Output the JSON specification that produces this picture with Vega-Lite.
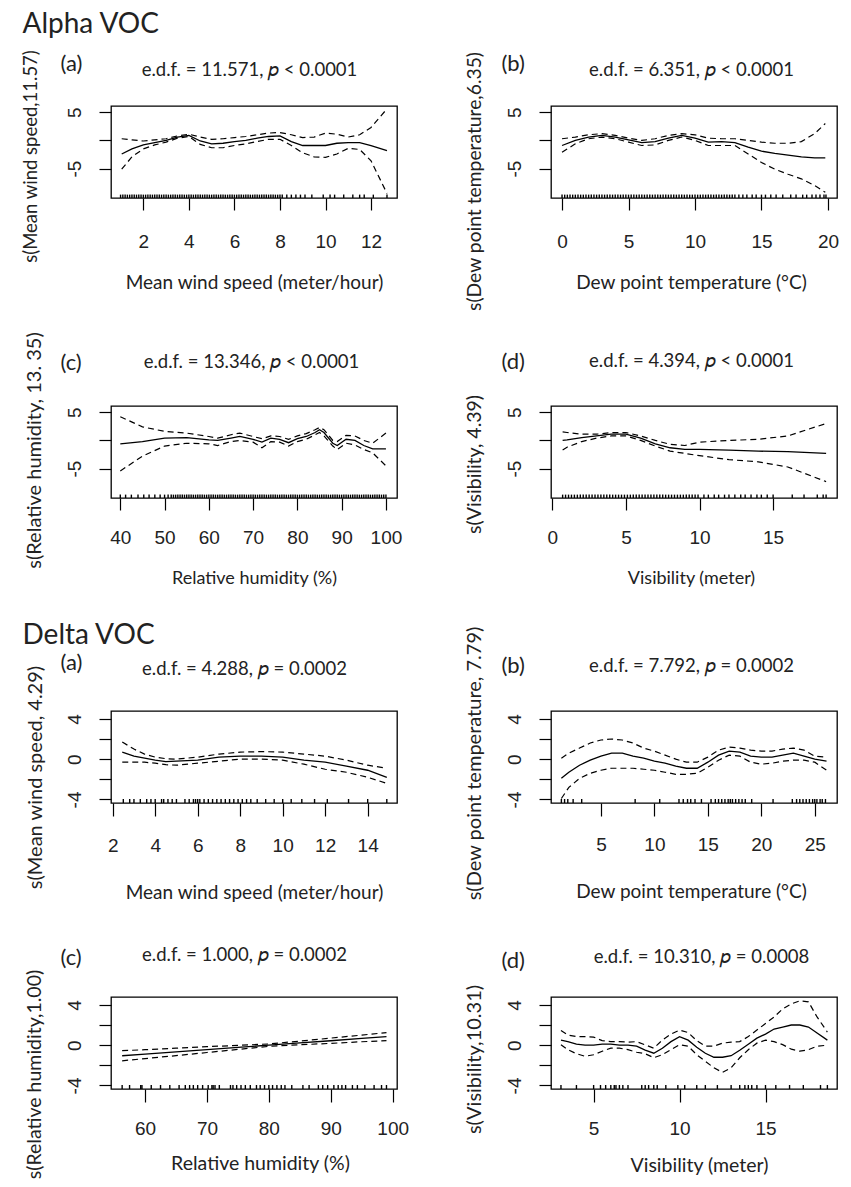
{
"$schema": "https://vega.github.io/schema/vega-lite/v6.json",
"background": "white",
"padding": {"left": 20, "top": 9, "right": 5, "bottom": 5},
"spacing": 32,
"datasets": {
"Aa": [{"x":1.05,"fit":-2.4,"hi":0.3,"lo":-5.1},{"x":1.5,"fit":-1.5,"hi":0.1,"lo":-2.9},{"x":2,"fit":-0.8,"hi":-0.1,"lo":-1.5},{"x":2.5,"fit":-0.4,"hi":0.1,"lo":-0.8},{"x":3,"fit":0.0,"hi":0.3,"lo":-0.3},{"x":3.5,"fit":0.6,"hi":0.8,"lo":0.4},{"x":4,"fit":0.9,"hi":1.1,"lo":0.7},{"x":4.5,"fit":-0.1,"hi":0.6,"lo":-0.7},{"x":5,"fit":-0.6,"hi":0.2,"lo":-1.3},{"x":5.5,"fit":-0.5,"hi":0.3,"lo":-1.3},{"x":6,"fit":-0.2,"hi":0.5,"lo":-0.9},{"x":6.5,"fit":0.0,"hi":0.7,"lo":-0.6},{"x":7,"fit":0.4,"hi":1.0,"lo":-0.2},{"x":7.5,"fit":0.7,"hi":1.3,"lo":0.2},{"x":8,"fit":0.8,"hi":1.4,"lo":0.2},{"x":8.5,"fit":-0.2,"hi":1.0,"lo":-0.9},{"x":9,"fit":-0.9,"hi":0.5,"lo":-2.2},{"x":9.5,"fit":-0.9,"hi":0.6,"lo":-2.9},{"x":10,"fit":-0.9,"hi":1.3,"lo":-3.0},{"x":10.5,"fit":-0.5,"hi":1.1,"lo":-2.4},{"x":11,"fit":-0.4,"hi":0.6,"lo":-1.4},{"x":11.5,"fit":-0.4,"hi":1.0,"lo":-1.6},{"x":12,"fit":-0.9,"hi":2.3,"lo":-3.6},{"x":12.7,"fit":-1.8,"hi":5.6,"lo":-9.4}],
"Ab": [{"x":0,"fit":-0.9,"hi":0.3,"lo":-2.1},{"x":1,"fit":0.0,"hi":0.6,"lo":-0.6},{"x":2,"fit":0.6,"hi":1.0,"lo":0.3},{"x":3,"fit":0.9,"hi":1.2,"lo":0.6},{"x":4,"fit":0.6,"hi":0.9,"lo":0.3},{"x":5,"fit":0.1,"hi":0.4,"lo":-0.3},{"x":6,"fit":-0.4,"hi":0.0,"lo":-0.9},{"x":7,"fit":-0.2,"hi":0.3,"lo":-0.8},{"x":8,"fit":0.4,"hi":0.9,"lo":0.0},{"x":9,"fit":0.9,"hi":1.2,"lo":0.6},{"x":10,"fit":0.4,"hi":1.0,"lo":0.0},{"x":11,"fit":-0.3,"hi":0.4,"lo":-0.9},{"x":12,"fit":-0.2,"hi":0.3,"lo":-0.9},{"x":13,"fit":-0.4,"hi":0.3,"lo":-0.9},{"x":14,"fit":-1.2,"hi":0.0,"lo":-2.4},{"x":15,"fit":-1.9,"hi":-0.3,"lo":-3.9},{"x":16,"fit":-2.3,"hi":-0.5,"lo":-5.1},{"x":17,"fit":-2.6,"hi":-0.5,"lo":-6.0},{"x":18,"fit":-2.9,"hi":-0.2,"lo":-6.8},{"x":19,"fit":-3.1,"hi":1.2,"lo":-8.0},{"x":19.8,"fit":-3.1,"hi":3.0,"lo":-9.2}],
"Ac": [{"x":40,"fit":-0.6,"hi":4.2,"lo":-5.4},{"x":45,"fit":-0.2,"hi":2.4,"lo":-2.8},{"x":50,"fit":0.4,"hi":1.6,"lo":-1.0},{"x":55,"fit":0.5,"hi":1.3,"lo":-0.5},{"x":60,"fit":0.1,"hi":0.7,"lo":-0.6},{"x":62,"fit":0.0,"hi":0.4,"lo":-0.9},{"x":65,"fit":0.4,"hi":1.0,"lo":-0.2},{"x":67,"fit":0.7,"hi":1.3,"lo":0.0},{"x":70,"fit":0.2,"hi":0.7,"lo":-0.3},{"x":72,"fit":-0.3,"hi":0.3,"lo":-1.3},{"x":74,"fit":0.4,"hi":0.8,"lo":-0.2},{"x":76,"fit":0.2,"hi":0.7,"lo":-0.3},{"x":78,"fit":-0.4,"hi":0.2,"lo":-1.0},{"x":80,"fit":0.3,"hi":0.8,"lo":-0.2},{"x":82,"fit":0.7,"hi":1.2,"lo":0.2},{"x":84,"fit":1.4,"hi":1.9,"lo":1.0},{"x":85,"fit":1.9,"hi":2.3,"lo":1.4},{"x":86,"fit":1.4,"hi":1.9,"lo":0.8},{"x":88,"fit":-0.5,"hi":0.0,"lo":-1.0},{"x":89,"fit":-0.9,"hi":-0.2,"lo":-1.6},{"x":91,"fit":0.2,"hi":0.9,"lo":-0.5},{"x":93,"fit":0.0,"hi":0.8,"lo":-0.8},{"x":95,"fit":-0.9,"hi":0.0,"lo":-1.6},{"x":97,"fit":-1.5,"hi":-0.5,"lo":-2.2},{"x":100,"fit":-1.5,"hi":1.3,"lo":-4.5}],
"Ad": [{"x":0.7,"fit":0.0,"hi":1.5,"lo":-1.7},{"x":1,"fit":0.1,"hi":1.4,"lo":-1.2},{"x":2,"fit":0.5,"hi":1.1,"lo":-0.2},{"x":3,"fit":0.8,"hi":1.1,"lo":0.4},{"x":4,"fit":1.1,"hi":1.4,"lo":0.8},{"x":5,"fit":1.1,"hi":1.4,"lo":0.8},{"x":6,"fit":0.4,"hi":0.8,"lo":0.0},{"x":7,"fit":-0.6,"hi":0.0,"lo":-1.0},{"x":8,"fit":-1.3,"hi":-0.7,"lo":-1.9},{"x":9,"fit":-1.6,"hi":-0.9,"lo":-2.3},{"x":10,"fit":-1.6,"hi":-0.3,"lo":-2.7},{"x":12,"fit":-1.7,"hi":0.0,"lo":-3.4},{"x":14,"fit":-1.9,"hi":0.2,"lo":-3.8},{"x":16,"fit":-2.0,"hi":0.8,"lo":-4.7},{"x":18.6,"fit":-2.3,"hi":3.0,"lo":-7.3}],
"Da": [{"x":2.45,"fit":0.7,"hi":1.7,"lo":-0.3},{"x":3,"fit":0.3,"hi":1.0,"lo":-0.3},{"x":3.5,"fit":0.1,"hi":0.5,"lo":-0.3},{"x":4,"fit":-0.1,"hi":0.2,"lo":-0.4},{"x":4.5,"fit":-0.25,"hi":0.05,"lo":-0.55},{"x":5,"fit":-0.2,"hi":0.0,"lo":-0.6},{"x":6,"fit":-0.1,"hi":0.2,"lo":-0.4},{"x":7,"fit":0.2,"hi":0.5,"lo":-0.2},{"x":8,"fit":0.3,"hi":0.7,"lo":0.0},{"x":9,"fit":0.3,"hi":0.75,"lo":0.0},{"x":10,"fit":0.2,"hi":0.7,"lo":-0.1},{"x":11,"fit":-0.1,"hi":0.5,"lo":-0.5},{"x":12,"fit":-0.3,"hi":0.3,"lo":-1.0},{"x":13,"fit":-0.7,"hi":-0.1,"lo":-1.3},{"x":14,"fit":-1.1,"hi":-0.6,"lo":-1.8},{"x":14.9,"fit":-1.8,"hi":-0.9,"lo":-2.4}],
"Db": [{"x":1.3,"fit":-1.9,"hi":0.1,"lo":-3.9},{"x":2,"fit":-1.3,"hi":0.6,"lo":-2.8},{"x":3,"fit":-0.6,"hi":1.1,"lo":-1.9},{"x":4,"fit":-0.1,"hi":1.6,"lo":-1.4},{"x":5,"fit":0.3,"hi":1.9,"lo":-1.1},{"x":6,"fit":0.6,"hi":2.0,"lo":-0.9},{"x":7,"fit":0.6,"hi":1.9,"lo":-0.9},{"x":8,"fit":0.3,"hi":1.6,"lo":-0.9},{"x":9,"fit":0.1,"hi":1.1,"lo":-1.0},{"x":10,"fit":-0.2,"hi":0.8,"lo":-1.1},{"x":11,"fit":-0.4,"hi":0.4,"lo":-1.3},{"x":12,"fit":-0.7,"hi":0.0,"lo":-1.5},{"x":13,"fit":-0.9,"hi":-0.3,"lo":-1.5},{"x":14,"fit":-0.9,"hi":-0.3,"lo":-1.4},{"x":15,"fit":-0.3,"hi":0.2,"lo":-0.8},{"x":16,"fit":0.4,"hi":0.9,"lo":-0.1},{"x":17,"fit":0.8,"hi":1.2,"lo":0.4},{"x":18,"fit":0.7,"hi":1.1,"lo":0.3},{"x":19,"fit":0.3,"hi":0.9,"lo":-0.3},{"x":20,"fit":0.2,"hi":0.8,"lo":-0.5},{"x":21,"fit":0.2,"hi":0.8,"lo":-0.4},{"x":22,"fit":0.4,"hi":1.0,"lo":-0.2},{"x":23,"fit":0.6,"hi":1.1,"lo":-0.1},{"x":24,"fit":0.3,"hi":0.9,"lo":-0.1},{"x":25,"fit":0.0,"hi":0.3,"lo":-0.3},{"x":26.1,"fit":-0.2,"hi":0.2,"lo":-1.1}],
"Dc": [{"x":56.3,"fit":-1.05,"hi":-0.55,"lo":-1.55},{"x":60,"fit":-0.89,"hi":-0.45,"lo":-1.33},{"x":65,"fit":-0.67,"hi":-0.3,"lo":-1.04},{"x":70,"fit":-0.44,"hi":-0.15,"lo":-0.73},{"x":75,"fit":-0.22,"hi":-0.02,"lo":-0.42},{"x":80,"fit":0.0,"hi":0.12,"lo":-0.12},{"x":85,"fit":0.22,"hi":0.4,"lo":0.04},{"x":90,"fit":0.44,"hi":0.7,"lo":0.18},{"x":95,"fit":0.67,"hi":1.0,"lo":0.34},{"x":99,"fit":0.85,"hi":1.25,"lo":0.45}],
"Dd": [{"x":3.1,"fit":0.5,"hi":1.45,"lo":0.05},{"x":3.5,"fit":0.35,"hi":1.0,"lo":-0.45},{"x":4,"fit":0.1,"hi":0.85,"lo":-0.85},{"x":4.5,"fit":0.0,"hi":0.85,"lo":-1.1},{"x":5,"fit":0.0,"hi":0.8,"lo":-0.95},{"x":5.5,"fit":0.1,"hi":0.45,"lo":-0.6},{"x":6,"fit":0.1,"hi":0.35,"lo":-0.3},{"x":6.5,"fit":0.0,"hi":0.35,"lo":-0.3},{"x":7,"fit":0.0,"hi":0.3,"lo":-0.45},{"x":7.5,"fit":-0.1,"hi":0.35,"lo":-0.7},{"x":8,"fit":-0.5,"hi":0.03,"lo":-0.85},{"x":8.5,"fit":-0.8,"hi":-0.3,"lo":-1.25},{"x":9,"fit":-0.3,"hi":0.5,"lo":-0.95},{"x":9.5,"fit":0.35,"hi":1.1,"lo":-0.45},{"x":10,"fit":0.85,"hi":1.5,"lo":0.05},{"x":10.5,"fit":0.5,"hi":1.25,"lo":-0.1},{"x":11,"fit":-0.2,"hi":0.45,"lo":-0.95},{"x":11.5,"fit":-0.8,"hi":-0.1,"lo":-1.6},{"x":12,"fit":-1.2,"hi":-0.1,"lo":-2.25},{"x":12.5,"fit":-1.2,"hi":0.2,"lo":-2.7},{"x":13,"fit":-1.05,"hi":0.3,"lo":-2.25},{"x":13.5,"fit":-0.5,"hi":0.35,"lo":-1.25},{"x":14,"fit":0.1,"hi":0.85,"lo":-0.45},{"x":14.5,"fit":0.7,"hi":1.5,"lo":0.2},{"x":15,"fit":1.1,"hi":2.15,"lo":0.5},{"x":15.5,"fit":1.6,"hi":2.8,"lo":0.35},{"x":16,"fit":1.8,"hi":3.6,"lo":0.05},{"x":16.5,"fit":2.0,"hi":4.1,"lo":-0.4},{"x":17,"fit":2.0,"hi":4.4,"lo":-0.6},{"x":17.5,"fit":1.8,"hi":4.3,"lo":-0.45},{"x":18,"fit":1.2,"hi":2.8,"lo":-0.1},{"x":18.6,"fit":0.5,"hi":1.3,"lo":0.0}],
"Aa_rug": [{"x":1.0},{"x":1.1},{"x":1.2},{"x":1.3},{"x":1.4},{"x":1.5},{"x":1.6},{"x":1.7},{"x":1.8},{"x":1.9},{"x":2.0},{"x":2.1},{"x":2.2},{"x":2.3},{"x":2.4},{"x":2.5},{"x":2.6},{"x":2.7},{"x":2.8},{"x":2.9},{"x":3.0},{"x":3.1},{"x":3.2},{"x":3.3},{"x":3.4},{"x":3.5},{"x":3.6},{"x":3.7},{"x":3.8},{"x":3.9},{"x":4.0},{"x":4.1},{"x":4.2},{"x":4.3},{"x":4.4},{"x":4.5},{"x":4.6},{"x":4.7},{"x":4.8},{"x":4.9},{"x":5.0},{"x":5.1},{"x":5.2},{"x":5.3},{"x":5.4},{"x":5.5},{"x":5.6},{"x":5.7},{"x":5.8},{"x":5.9},{"x":6.0},{"x":6.1},{"x":6.2},{"x":6.3},{"x":6.4},{"x":6.5},{"x":6.6},{"x":6.7},{"x":6.8},{"x":6.9},{"x":7.0},{"x":7.1},{"x":7.2},{"x":7.3},{"x":7.4},{"x":7.5},{"x":7.6},{"x":7.7},{"x":7.8},{"x":7.9},{"x":8.0},{"x":8.1},{"x":8.3},{"x":8.5},{"x":8.7},{"x":8.9},{"x":9.1},{"x":9.4},{"x":9.9},{"x":10.2},{"x":10.4},{"x":10.8},{"x":11.2},{"x":11.5},{"x":11.7},{"x":12.1},{"x":12.7}],
"Ab_rug": [{"x":0.0},{"x":0.2},{"x":0.4},{"x":0.6},{"x":0.8},{"x":1.0},{"x":1.2},{"x":1.4},{"x":1.6},{"x":1.8},{"x":2.0},{"x":2.2},{"x":2.4},{"x":2.6},{"x":2.8},{"x":3.0},{"x":3.2},{"x":3.4},{"x":3.6},{"x":3.8},{"x":4.0},{"x":4.2},{"x":4.4},{"x":4.6},{"x":4.8},{"x":5.0},{"x":5.2},{"x":5.4},{"x":5.6},{"x":5.8},{"x":6.0},{"x":6.2},{"x":6.4},{"x":6.6},{"x":6.8},{"x":7.0},{"x":7.2},{"x":7.4},{"x":7.6},{"x":7.8},{"x":8.0},{"x":8.2},{"x":8.4},{"x":8.6},{"x":8.8},{"x":9.0},{"x":9.2},{"x":9.4},{"x":9.6},{"x":9.8},{"x":10.0},{"x":10.2},{"x":10.4},{"x":10.6},{"x":10.8},{"x":11.0},{"x":11.2},{"x":11.4},{"x":11.6},{"x":11.8},{"x":12.0},{"x":12.2},{"x":12.4},{"x":12.6},{"x":12.8},{"x":13.0},{"x":13.3},{"x":13.6},{"x":13.9},{"x":14.3},{"x":14.6},{"x":15.0},{"x":15.3},{"x":15.7},{"x":16.1},{"x":16.6},{"x":17.2},{"x":17.6},{"x":18.1},{"x":18.4},{"x":18.8},{"x":19.1},{"x":19.4},{"x":19.7},{"x":19.85}],
"Ac_rug": [{"x":40},{"x":41.2},{"x":42.5},{"x":44},{"x":45.3},{"x":46.5},{"x":47.8},{"x":49},{"x":50},{"x":50.8},{"x":51.5},{"x":52},{"x":52.5},{"x":53},{"x":53.5},{"x":54},{"x":54.5},{"x":55},{"x":55.5},{"x":56},{"x":56.5},{"x":57},{"x":57.5},{"x":58},{"x":58.5},{"x":59},{"x":59.5},{"x":60},{"x":60.5},{"x":61},{"x":61.5},{"x":62},{"x":62.5},{"x":63},{"x":63.5},{"x":64},{"x":64.5},{"x":65},{"x":65.5},{"x":66},{"x":66.5},{"x":67},{"x":67.5},{"x":68},{"x":68.5},{"x":69},{"x":69.5},{"x":70},{"x":70.5},{"x":71},{"x":71.5},{"x":72},{"x":72.5},{"x":73},{"x":73.5},{"x":74},{"x":74.5},{"x":75},{"x":75.5},{"x":76},{"x":76.5},{"x":77},{"x":77.5},{"x":78},{"x":78.5},{"x":79},{"x":79.5},{"x":80},{"x":80.5},{"x":81},{"x":81.5},{"x":82},{"x":82.5},{"x":83},{"x":83.5},{"x":84},{"x":84.5},{"x":85},{"x":85.5},{"x":86},{"x":86.5},{"x":87},{"x":87.5},{"x":88},{"x":88.5},{"x":89},{"x":89.5},{"x":90},{"x":90.5},{"x":91},{"x":91.5},{"x":92},{"x":92.5},{"x":93},{"x":93.5},{"x":94},{"x":94.5},{"x":95},{"x":95.5},{"x":96},{"x":96.5},{"x":97},{"x":97.5},{"x":98},{"x":98.5},{"x":99},{"x":99.5},{"x":100}],
"Ad_rug": [{"x":0.7},{"x":0.9},{"x":1.1},{"x":1.3},{"x":1.5},{"x":1.7},{"x":1.9},{"x":2.1},{"x":2.3},{"x":2.5},{"x":2.7},{"x":2.9},{"x":3.1},{"x":3.3},{"x":3.5},{"x":3.7},{"x":3.9},{"x":4.1},{"x":4.3},{"x":4.5},{"x":4.7},{"x":4.9},{"x":5.1},{"x":5.3},{"x":5.5},{"x":5.7},{"x":5.9},{"x":6.1},{"x":6.3},{"x":6.5},{"x":6.7},{"x":6.9},{"x":7.1},{"x":7.3},{"x":7.5},{"x":7.7},{"x":7.9},{"x":8.1},{"x":8.3},{"x":8.5},{"x":8.7},{"x":8.9},{"x":9.1},{"x":9.3},{"x":9.5},{"x":9.7},{"x":9.9},{"x":10.3},{"x":10.6},{"x":11.0},{"x":11.3},{"x":11.7},{"x":12.0},{"x":12.4},{"x":12.8},{"x":13.1},{"x":13.5},{"x":13.9},{"x":14.2},{"x":14.6},{"x":15.0},{"x":16.3},{"x":17.1},{"x":18.0},{"x":18.4},{"x":18.6}],
"Da_rug": [{"x":2.5},{"x":2.8},{"x":3.0},{"x":3.3},{"x":3.6},{"x":3.8},{"x":4.0},{"x":4.3},{"x":4.4},{"x":4.6},{"x":4.8},{"x":5.0},{"x":5.4},{"x":5.6},{"x":5.8},{"x":5.9},{"x":6.0},{"x":6.1},{"x":6.3},{"x":6.5},{"x":6.7},{"x":6.9},{"x":7.1},{"x":7.3},{"x":7.5},{"x":7.7},{"x":7.9},{"x":8.1},{"x":8.3},{"x":8.5},{"x":8.8},{"x":9.2},{"x":9.6},{"x":10.0},{"x":10.4},{"x":10.9},{"x":11.5},{"x":12.1},{"x":13.1},{"x":14.0},{"x":14.9}],
"Db_rug": [{"x":1.3},{"x":1.6},{"x":1.9},{"x":2.4},{"x":3.2},{"x":8.2},{"x":10.5},{"x":12.3},{"x":12.7},{"x":13.1},{"x":13.4},{"x":13.8},{"x":14.4},{"x":15.3},{"x":15.7},{"x":16.0},{"x":16.3},{"x":16.6},{"x":16.9},{"x":17.1},{"x":17.3},{"x":17.6},{"x":17.9},{"x":18.2},{"x":18.5},{"x":19.1},{"x":21.1},{"x":22.9},{"x":23.3},{"x":23.6},{"x":23.9},{"x":24.2},{"x":24.5},{"x":24.8},{"x":25.0},{"x":25.2},{"x":25.5},{"x":25.7},{"x":26.0}],
"Dc_rug": [{"x":56.3},{"x":57.5},{"x":59.3},{"x":59.5},{"x":61},{"x":62.5},{"x":64},{"x":65.5},{"x":66.5},{"x":67.2},{"x":67.8},{"x":68.5},{"x":69.3},{"x":70.2},{"x":70.8},{"x":71.0},{"x":71.3},{"x":72},{"x":73.8},{"x":74.2},{"x":74.8},{"x":75.5},{"x":76.2},{"x":77},{"x":78},{"x":78.6},{"x":79.3},{"x":80},{"x":80.6},{"x":81.3},{"x":82},{"x":82.6},{"x":83.7},{"x":85.5},{"x":86.5},{"x":88},{"x":88.7},{"x":89.5},{"x":90.5},{"x":91.2},{"x":91.8},{"x":92.4},{"x":93.5},{"x":94.3},{"x":95.5},{"x":97},{"x":98.2},{"x":99}],
"Dd_rug": [{"x":3.1},{"x":4.0},{"x":5.0},{"x":5.4},{"x":5.7},{"x":6.0},{"x":6.2},{"x":6.3},{"x":6.5},{"x":6.7},{"x":7.0},{"x":7.8},{"x":8.0},{"x":8.2},{"x":8.5},{"x":8.7},{"x":9.2},{"x":9.9},{"x":10.3},{"x":11.0},{"x":11.5},{"x":12.2},{"x":13.0},{"x":13.5},{"x":13.8},{"x":14.0},{"x":14.2},{"x":14.5},{"x":15.0},{"x":15.6},{"x":16.4},{"x":17.2},{"x":18.2},{"x":18.6}]
},
"vconcat": [
{
"columns": 2,
"bounds": "flush",
"spacing": {"row": 208, "column": 154},
"concat": [
{
"width": 286, "height": 92,
"resolve": {"axis": {"x": "independent", "y": "independent"}},
"layer": [
{"data": {"name": "Aa"}, "mark": {"type": "line", "color": "black", "strokeWidth": 1.3},
 "encoding": {
  "x": {"field": "x", "type": "quantitative", "scale": {"domain": [0.58, 13.14], "nice": false, "zero": false}, "axis": {"orient": "bottom", "values": [2,4,6,8,10,12], "tickSize": 12, "labelPadding": 22, "title": "Mean wind speed (meter/hour)", "titleFontSize": 19, "titleX": 143, "titleY": 84}},
  "y": {"field": "fit", "type": "quantitative", "scale": {"domain": [-10.2, 6.1], "nice": false, "zero": false}, "axis": {"orient": "left", "values": [-5,0,5], "tickSize": 12, "labelExpr": "datum.value == 0 ? '' : (datum.value < 0 ? '-' + abs(datum.value) : '' + datum.value)", "title": "s(Mean wind speed,11.57)", "titleFontSize": 18.5, "titleX": -81, "titleY": 50}}}},
{"data": {"name": "Aa"}, "mark": {"type": "line", "color": "black", "strokeWidth": 1.2, "strokeDash": [6,4]},
 "encoding": {
  "x": {"field": "x", "type": "quantitative", "scale": {"domain": [0.58, 13.14], "nice": false, "zero": false}, "axis": {"orient": "top", "labels": false, "ticks": false, "domain": false, "title": "e.d.f. = 11.571, 𝑝 < 0.0001", "titleX": 138, "titleY": -37}},
  "y": {"field": "hi", "type": "quantitative", "scale": {"domain": [-10.2, 6.1], "nice": false, "zero": false}, "axis": null}}},
{"data": {"name": "Aa"}, "mark": {"type": "line", "color": "black", "strokeWidth": 1.2, "strokeDash": [6,4]},
 "encoding": {
  "x": {"field": "x", "type": "quantitative", "scale": {"domain": [0.58, 13.14], "nice": false, "zero": false}, "axis": null},
  "y": {"field": "lo", "type": "quantitative", "scale": {"domain": [-10.2, 6.1], "nice": false, "zero": false}, "axis": null}}},
{"data": {"name": "Aa_rug"}, "mark": {"type": "rule", "color": "black", "strokeWidth": 1.4},
 "encoding": {
  "x": {"field": "x", "type": "quantitative", "scale": {"domain": [0.58, 13.14], "nice": false, "zero": false}, "axis": {"orient": "top", "labels": false, "ticks": false, "domain": false, "title": "(a)", "titleAlign": "left", "titleFontSize": 22, "titleX": -51, "titleY": -43}},
  "y": {"datum": -10.2, "type": "quantitative", "scale": {"domain": [-10.2, 6.1], "nice": false, "zero": false}, "axis": {"orient": "left", "labels": false, "ticks": false, "domain": false, "title": "Alpha VOC", "titleAngle": 0, "titleAlign": "left", "titleFontSize": 28, "titleX": -89, "titleY": -82}},
  "y2": {"datum": -9.6}}}
]
},
{
"width": 286, "height": 92,
"resolve": {"axis": {"x": "independent", "y": "independent"}},
"layer": [
{"data": {"name": "Ab"}, "mark": {"type": "line", "color": "black", "strokeWidth": 1.3},
 "encoding": {
  "x": {"field": "x", "type": "quantitative", "scale": {"domain": [-0.83, 20.68], "nice": false, "zero": false}, "axis": {"orient": "bottom", "values": [0,5,10,15,20], "tickSize": 12, "labelPadding": 22, "title": "Dew point temperature (°C)", "titleFontSize": 19, "titleX": 140, "titleY": 84}},
  "y": {"field": "fit", "type": "quantitative", "scale": {"domain": [-10.2, 6.1], "nice": false, "zero": false}, "axis": {"orient": "left", "values": [-5,0,5], "tickSize": 12, "labelExpr": "datum.value == 0 ? '' : (datum.value < 0 ? '-' + abs(datum.value) : '' + datum.value)", "title": "s(Dew point temperature,6.35)", "titleFontSize": 19.3, "titleX": -77, "titleY": 75}}}},
{"data": {"name": "Ab"}, "mark": {"type": "line", "color": "black", "strokeWidth": 1.2, "strokeDash": [6,4]},
 "encoding": {
  "x": {"field": "x", "type": "quantitative", "scale": {"domain": [-0.83, 20.68], "nice": false, "zero": false}, "axis": {"orient": "top", "labels": false, "ticks": false, "domain": false, "title": "e.d.f. = 6.351, 𝑝 < 0.0001", "titleX": 140, "titleY": -37}},
  "y": {"field": "hi", "type": "quantitative", "scale": {"domain": [-10.2, 6.1], "nice": false, "zero": false}, "axis": null}}},
{"data": {"name": "Ab"}, "mark": {"type": "line", "color": "black", "strokeWidth": 1.2, "strokeDash": [6,4]},
 "encoding": {
  "x": {"field": "x", "type": "quantitative", "scale": {"domain": [-0.83, 20.68], "nice": false, "zero": false}, "axis": null},
  "y": {"field": "lo", "type": "quantitative", "scale": {"domain": [-10.2, 6.1], "nice": false, "zero": false}, "axis": null}}},
{"data": {"name": "Ab_rug"}, "mark": {"type": "rule", "color": "black", "strokeWidth": 1.4},
 "encoding": {
  "x": {"field": "x", "type": "quantitative", "scale": {"domain": [-0.83, 20.68], "nice": false, "zero": false}, "axis": {"orient": "top", "labels": false, "ticks": false, "domain": false, "title": "(b)", "titleAlign": "left", "titleFontSize": 22, "titleX": -50, "titleY": -43}},
  "y": {"datum": -10.2, "type": "quantitative", "scale": {"domain": [-10.2, 6.1], "nice": false, "zero": false}, "axis": null},
  "y2": {"datum": -9.6}}}
]
},
{
"width": 286, "height": 92,
"resolve": {"axis": {"x": "independent", "y": "independent"}},
"layer": [
{"data": {"name": "Ac"}, "mark": {"type": "line", "color": "black", "strokeWidth": 1.3},
 "encoding": {
  "x": {"field": "x", "type": "quantitative", "scale": {"domain": [37.9, 102.5], "nice": false, "zero": false}, "axis": {"orient": "bottom", "values": [40,50,60,70,80,90,100], "tickSize": 12, "labelPadding": 18, "title": "Relative humidity (%)", "titleFontSize": 18, "titleX": 143, "titleY": 80}},
  "y": {"field": "fit", "type": "quantitative", "scale": {"domain": [-10.2, 6.1], "nice": false, "zero": false}, "axis": {"orient": "left", "values": [-5,0,5], "tickSize": 12, "labelExpr": "datum.value == 0 ? '' : (datum.value < 0 ? '-' + abs(datum.value) : '' + datum.value)", "title": "s(Relative humidity, 13. 35)", "titleFontSize": 20, "titleX": -77, "titleY": 44}}}},
{"data": {"name": "Ac"}, "mark": {"type": "line", "color": "black", "strokeWidth": 1.2, "strokeDash": [6,4]},
 "encoding": {
  "x": {"field": "x", "type": "quantitative", "scale": {"domain": [37.9, 102.5], "nice": false, "zero": false}, "axis": {"orient": "top", "labels": false, "ticks": false, "domain": false, "title": "e.d.f. = 13.346, 𝑝 < 0.0001", "titleX": 140, "titleY": -45}},
  "y": {"field": "hi", "type": "quantitative", "scale": {"domain": [-10.2, 6.1], "nice": false, "zero": false}, "axis": null}}},
{"data": {"name": "Ac"}, "mark": {"type": "line", "color": "black", "strokeWidth": 1.2, "strokeDash": [6,4]},
 "encoding": {
  "x": {"field": "x", "type": "quantitative", "scale": {"domain": [37.9, 102.5], "nice": false, "zero": false}, "axis": null},
  "y": {"field": "lo", "type": "quantitative", "scale": {"domain": [-10.2, 6.1], "nice": false, "zero": false}, "axis": null}}},
{"data": {"name": "Ac_rug"}, "mark": {"type": "rule", "color": "black", "strokeWidth": 1.4},
 "encoding": {
  "x": {"field": "x", "type": "quantitative", "scale": {"domain": [37.9, 102.5], "nice": false, "zero": false}, "axis": {"orient": "top", "labels": false, "ticks": false, "domain": false, "title": "(c)", "titleAlign": "left", "titleFontSize": 22, "titleX": -51, "titleY": -44}},
  "y": {"datum": -10.2, "type": "quantitative", "scale": {"domain": [-10.2, 6.1], "nice": false, "zero": false}, "axis": null},
  "y2": {"datum": -9.6}}}
]
},
{
"width": 286, "height": 92,
"resolve": {"axis": {"x": "independent", "y": "independent"}},
"layer": [
{"data": {"name": "Ad"}, "mark": {"type": "line", "color": "black", "strokeWidth": 1.3},
 "encoding": {
  "x": {"field": "x", "type": "quantitative", "scale": {"domain": [-0.09, 19.34], "nice": false, "zero": false}, "axis": {"orient": "bottom", "values": [0,5,10,15], "tickSize": 12, "labelPadding": 18, "title": "Visibility (meter)", "titleFontSize": 18, "titleX": 140, "titleY": 80}},
  "y": {"field": "fit", "type": "quantitative", "scale": {"domain": [-10.2, 6.1], "nice": false, "zero": false}, "axis": {"orient": "left", "values": [-5,0,5], "tickSize": 12, "labelExpr": "datum.value == 0 ? '' : (datum.value < 0 ? '-' + abs(datum.value) : '' + datum.value)", "title": "s(Visibility, 4.39)", "titleFontSize": 19.5, "titleX": -77, "titleY": 58}}}},
{"data": {"name": "Ad"}, "mark": {"type": "line", "color": "black", "strokeWidth": 1.2, "strokeDash": [6,4]},
 "encoding": {
  "x": {"field": "x", "type": "quantitative", "scale": {"domain": [-0.09, 19.34], "nice": false, "zero": false}, "axis": {"orient": "top", "labels": false, "ticks": false, "domain": false, "title": "e.d.f. = 4.394, 𝑝 < 0.0001", "titleX": 140, "titleY": -46}},
  "y": {"field": "hi", "type": "quantitative", "scale": {"domain": [-10.2, 6.1], "nice": false, "zero": false}, "axis": null}}},
{"data": {"name": "Ad"}, "mark": {"type": "line", "color": "black", "strokeWidth": 1.2, "strokeDash": [6,4]},
 "encoding": {
  "x": {"field": "x", "type": "quantitative", "scale": {"domain": [-0.09, 19.34], "nice": false, "zero": false}, "axis": null},
  "y": {"field": "lo", "type": "quantitative", "scale": {"domain": [-10.2, 6.1], "nice": false, "zero": false}, "axis": null}}},
{"data": {"name": "Ad_rug"}, "mark": {"type": "rule", "color": "black", "strokeWidth": 1.4},
 "encoding": {
  "x": {"field": "x", "type": "quantitative", "scale": {"domain": [-0.09, 19.34], "nice": false, "zero": false}, "axis": {"orient": "top", "labels": false, "ticks": false, "domain": false, "title": "(d)", "titleAlign": "left", "titleFontSize": 22, "titleX": -50, "titleY": -45}},
  "y": {"datum": -10.2, "type": "quantitative", "scale": {"domain": [-10.2, 6.1], "nice": false, "zero": false}, "axis": null},
  "y2": {"datum": -9.6}}}
]
}
]
},
{
"columns": 2,
"bounds": "flush",
"spacing": {"row": 194, "column": 154},
"concat": [
{
"width": 286, "height": 92,
"resolve": {"axis": {"x": "independent", "y": "independent"}},
"layer": [
{"data": {"name": "Da"}, "mark": {"type": "line", "color": "black", "strokeWidth": 1.3},
 "encoding": {
  "x": {"field": "x", "type": "quantitative", "scale": {"domain": [1.92, 15.38], "nice": false, "zero": false}, "axis": {"orient": "bottom", "values": [2,4,6,8,10,12,14], "tickSize": 13, "labelPadding": 20, "title": "Mean wind speed (meter/hour)", "titleFontSize": 19, "titleX": 143, "titleY": 89}},
  "y": {"field": "fit", "type": "quantitative", "scale": {"domain": [-4.35, 4.78], "nice": false, "zero": false}, "axis": {"orient": "left", "values": [-4,-2,0,2,4], "tickSize": 12, "labelExpr": "abs(datum.value) == 2 ? '' : (datum.value < 0 ? '-' + abs(datum.value) : '' + datum.value)", "title": "s(Mean wind speed, 4.29)", "titleFontSize": 20, "titleX": -76, "titleY": 66}}}},
{"data": {"name": "Da"}, "mark": {"type": "line", "color": "black", "strokeWidth": 1.2, "strokeDash": [6,4]},
 "encoding": {
  "x": {"field": "x", "type": "quantitative", "scale": {"domain": [1.92, 15.38], "nice": false, "zero": false}, "axis": {"orient": "top", "labels": false, "ticks": false, "domain": false, "title": "e.d.f. = 4.288, 𝑝 = 0.0002", "titleX": 133, "titleY": -43}},
  "y": {"field": "hi", "type": "quantitative", "scale": {"domain": [-4.35, 4.78], "nice": false, "zero": false}, "axis": null}}},
{"data": {"name": "Da"}, "mark": {"type": "line", "color": "black", "strokeWidth": 1.2, "strokeDash": [6,4]},
 "encoding": {
  "x": {"field": "x", "type": "quantitative", "scale": {"domain": [1.92, 15.38], "nice": false, "zero": false}, "axis": null},
  "y": {"field": "lo", "type": "quantitative", "scale": {"domain": [-4.35, 4.78], "nice": false, "zero": false}, "axis": null}}},
{"data": {"name": "Da_rug"}, "mark": {"type": "rule", "color": "black", "strokeWidth": 1.4},
 "encoding": {
  "x": {"field": "x", "type": "quantitative", "scale": {"domain": [1.92, 15.38], "nice": false, "zero": false}, "axis": {"orient": "top", "labels": false, "ticks": false, "domain": false, "title": "(a)", "titleAlign": "left", "titleFontSize": 22, "titleX": -51, "titleY": -49}},
  "y": {"datum": -4.35, "type": "quantitative", "scale": {"domain": [-4.35, 4.78], "nice": false, "zero": false}, "axis": {"orient": "left", "labels": false, "ticks": false, "domain": false, "title": "Delta VOC", "titleAngle": 0, "titleAlign": "left", "titleFontSize": 28, "titleX": -89, "titleY": -76}},
  "y2": {"datum": -3.95}}}
]
},
{
"width": 286, "height": 92,
"resolve": {"axis": {"x": "independent", "y": "independent"}},
"layer": [
{"data": {"name": "Db"}, "mark": {"type": "line", "color": "black", "strokeWidth": 1.3},
 "encoding": {
  "x": {"field": "x", "type": "quantitative", "scale": {"domain": [0.33, 27.08], "nice": false, "zero": false}, "axis": {"orient": "bottom", "values": [5,10,15,20,25], "tickSize": 13, "labelPadding": 19, "title": "Dew point temperature (°C)", "titleFontSize": 19, "titleX": 140, "titleY": 88}},
  "y": {"field": "fit", "type": "quantitative", "scale": {"domain": [-4.35, 4.78], "nice": false, "zero": false}, "axis": {"orient": "left", "values": [-4,-2,0,2,4], "tickSize": 12, "labelExpr": "abs(datum.value) == 2 ? '' : (datum.value < 0 ? '-' + abs(datum.value) : '' + datum.value)", "title": "s(Dew point temperature, 7.79)", "titleFontSize": 20, "titleX": -77, "titleY": 52}}}},
{"data": {"name": "Db"}, "mark": {"type": "line", "color": "black", "strokeWidth": 1.2, "strokeDash": [6,4]},
 "encoding": {
  "x": {"field": "x", "type": "quantitative", "scale": {"domain": [0.33, 27.08], "nice": false, "zero": false}, "axis": {"orient": "top", "labels": false, "ticks": false, "domain": false, "title": "e.d.f. = 7.792, 𝑝 = 0.0002", "titleX": 140, "titleY": -46}},
  "y": {"field": "hi", "type": "quantitative", "scale": {"domain": [-4.35, 4.78], "nice": false, "zero": false}, "axis": null}}},
{"data": {"name": "Db"}, "mark": {"type": "line", "color": "black", "strokeWidth": 1.2, "strokeDash": [6,4]},
 "encoding": {
  "x": {"field": "x", "type": "quantitative", "scale": {"domain": [0.33, 27.08], "nice": false, "zero": false}, "axis": null},
  "y": {"field": "lo", "type": "quantitative", "scale": {"domain": [-4.35, 4.78], "nice": false, "zero": false}, "axis": null}}},
{"data": {"name": "Db_rug"}, "mark": {"type": "rule", "color": "black", "strokeWidth": 1.4},
 "encoding": {
  "x": {"field": "x", "type": "quantitative", "scale": {"domain": [0.33, 27.08], "nice": false, "zero": false}, "axis": {"orient": "top", "labels": false, "ticks": false, "domain": false, "title": "(b)", "titleAlign": "left", "titleFontSize": 22, "titleX": -50, "titleY": -46}},
  "y": {"datum": -4.35, "type": "quantitative", "scale": {"domain": [-4.35, 4.78], "nice": false, "zero": false}, "axis": null},
  "y2": {"datum": -3.95}}}
]
},
{
"width": 286, "height": 92,
"resolve": {"axis": {"x": "independent", "y": "independent"}},
"layer": [
{"data": {"name": "Dc"}, "mark": {"type": "line", "color": "black", "strokeWidth": 1.3},
 "encoding": {
  "x": {"field": "x", "type": "quantitative", "scale": {"domain": [54.5, 100.7], "nice": false, "zero": false}, "axis": {"orient": "bottom", "values": [60,70,80,90,100], "tickSize": 13, "labelPadding": 17, "title": "Relative humidity (%)", "titleFontSize": 19.5, "titleX": 149, "titleY": 74}},
  "y": {"field": "fit", "type": "quantitative", "scale": {"domain": [-4.35, 4.78], "nice": false, "zero": false}, "axis": {"orient": "left", "values": [-4,-2,0,2,4], "tickSize": 12, "labelExpr": "abs(datum.value) == 2 ? '' : (datum.value < 0 ? '-' + abs(datum.value) : '' + datum.value)", "title": "s(Relative humidity,1.00)", "titleFontSize": 19.5, "titleX": -77, "titleY": 77}}}},
{"data": {"name": "Dc"}, "mark": {"type": "line", "color": "black", "strokeWidth": 1.2, "strokeDash": [6,4]},
 "encoding": {
  "x": {"field": "x", "type": "quantitative", "scale": {"domain": [54.5, 100.7], "nice": false, "zero": false}, "axis": {"orient": "top", "labels": false, "ticks": false, "domain": false, "title": "e.d.f. = 1.000, 𝑝 = 0.0002", "titleX": 133, "titleY": -43}},
  "y": {"field": "hi", "type": "quantitative", "scale": {"domain": [-4.35, 4.78], "nice": false, "zero": false}, "axis": null}}},
{"data": {"name": "Dc"}, "mark": {"type": "line", "color": "black", "strokeWidth": 1.2, "strokeDash": [6,4]},
 "encoding": {
  "x": {"field": "x", "type": "quantitative", "scale": {"domain": [54.5, 100.7], "nice": false, "zero": false}, "axis": null},
  "y": {"field": "lo", "type": "quantitative", "scale": {"domain": [-4.35, 4.78], "nice": false, "zero": false}, "axis": null}}},
{"data": {"name": "Dc_rug"}, "mark": {"type": "rule", "color": "black", "strokeWidth": 1.4},
 "encoding": {
  "x": {"field": "x", "type": "quantitative", "scale": {"domain": [54.5, 100.7], "nice": false, "zero": false}, "axis": {"orient": "top", "labels": false, "ticks": false, "domain": false, "title": "(c)", "titleAlign": "left", "titleFontSize": 22, "titleX": -51, "titleY": -40}},
  "y": {"datum": -4.35, "type": "quantitative", "scale": {"domain": [-4.35, 4.78], "nice": false, "zero": false}, "axis": null},
  "y2": {"datum": -3.95}}}
]
},
{
"width": 286, "height": 92,
"resolve": {"axis": {"x": "independent", "y": "independent"}},
"layer": [
{"data": {"name": "Dd"}, "mark": {"type": "line", "color": "black", "strokeWidth": 1.3},
 "encoding": {
  "x": {"field": "x", "type": "quantitative", "scale": {"domain": [2.52, 19.16], "nice": false, "zero": false}, "axis": {"orient": "bottom", "values": [5,10,15], "tickSize": 13, "labelPadding": 17, "title": "Visibility (meter)", "titleFontSize": 19.5, "titleX": 148, "titleY": 76}},
  "y": {"field": "fit", "type": "quantitative", "scale": {"domain": [-4.35, 4.78], "nice": false, "zero": false}, "axis": {"orient": "left", "values": [-4,-2,0,2,4], "tickSize": 12, "labelExpr": "abs(datum.value) == 2 ? '' : (datum.value < 0 ? '-' + abs(datum.value) : '' + datum.value)", "title": "s(Visibility,10.31)", "titleFontSize": 20, "titleX": -77, "titleY": 62}}}},
{"data": {"name": "Dd"}, "mark": {"type": "line", "color": "black", "strokeWidth": 1.2, "strokeDash": [6,4]},
 "encoding": {
  "x": {"field": "x", "type": "quantitative", "scale": {"domain": [2.52, 19.16], "nice": false, "zero": false}, "axis": {"orient": "top", "labels": false, "ticks": false, "domain": false, "title": "e.d.f. = 10.310, 𝑝 = 0.0008", "titleX": 150, "titleY": -41}},
  "y": {"field": "hi", "type": "quantitative", "scale": {"domain": [-4.35, 4.78], "nice": false, "zero": false}, "axis": null}}},
{"data": {"name": "Dd"}, "mark": {"type": "line", "color": "black", "strokeWidth": 1.2, "strokeDash": [6,4]},
 "encoding": {
  "x": {"field": "x", "type": "quantitative", "scale": {"domain": [2.52, 19.16], "nice": false, "zero": false}, "axis": null},
  "y": {"field": "lo", "type": "quantitative", "scale": {"domain": [-4.35, 4.78], "nice": false, "zero": false}, "axis": null}}},
{"data": {"name": "Dd_rug"}, "mark": {"type": "rule", "color": "black", "strokeWidth": 1.4},
 "encoding": {
  "x": {"field": "x", "type": "quantitative", "scale": {"domain": [2.52, 19.16], "nice": false, "zero": false}, "axis": {"orient": "top", "labels": false, "ticks": false, "domain": false, "title": "(d)", "titleAlign": "left", "titleFontSize": 22, "titleX": -50, "titleY": -37}},
  "y": {"datum": -4.35, "type": "quantitative", "scale": {"domain": [-4.35, 4.78], "nice": false, "zero": false}, "axis": null},
  "y2": {"datum": -3.95}}}
]
}
]
}
],
"config": {
  "font": "Lato",
  "view": {"stroke": "black", "strokeWidth": 1.3},
  "axis": {"grid": false, "domain": false, "tickColor": "black", "tickWidth": 1.2, "labelFont": "Liberation Sans", "labelFontSize": 19, "labelColor": "#222", "labelOverlap": false, "labelFlush": false, "titleFont": "Lato", "titleFontSize": 18.5, "titleFontWeight": "normal", "titleColor": "#222", "titleBaseline": "middle", "titleAlign": "center"},
  "axisY": {"labelAngle": -90, "labelAlign": "center", "labelBaseline": "middle", "labelPadding": 25},
  "axisX": {"labelAlign": "center", "labelBaseline": "top"}
}
}
